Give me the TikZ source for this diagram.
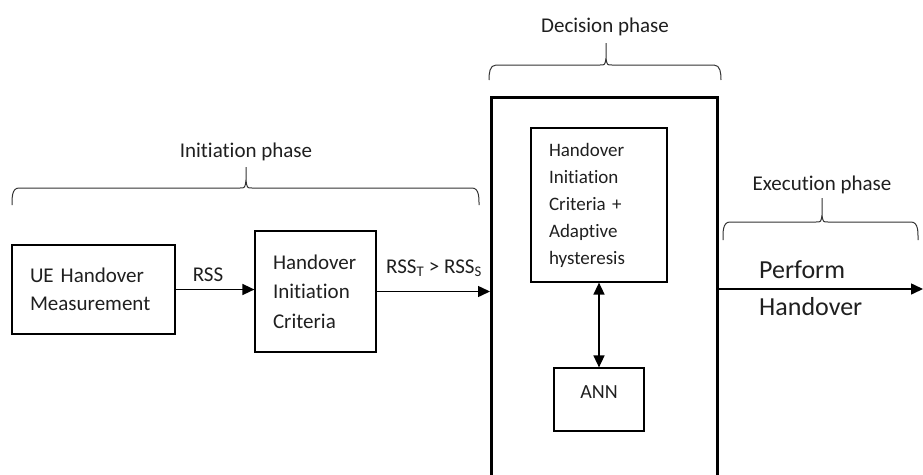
\documentclass[tikz,border=0pt]{standalone}
\usepackage{fontspec}
\setmainfont{Carlito}[Ligatures={NoCommon,NoContextual}]
\usetikzlibrary{arrows.meta}
\begin{document}
\begin{tikzpicture}[x=1pt,y=-1pt,
  txt/.style={text=black!88, inner sep=0pt},
  blk/.style={draw, line width=1.2pt, text=black!88, align=left, inner ysep=0pt},
  arr/.style={line width=1.5pt, -{Triangle[length=12pt,width=11pt]}},
  dbl/.style={line width=1.5pt, {Triangle[length=12pt,width=11pt]}-{Triangle[length=12pt,width=11pt]}},
  brc/.style={line width=1pt, draw=black!80}]
\useasboundingbox (0,0) rectangle (923,474);
% Initiation phase
\node[txt, anchor=base, font=\fontsize{21}{25}\selectfont] (tinit) at (246,157) {Initiation phase};
\draw[brc] (12,205) to[out=90,in=180] (19,188) -- (240,188) .. controls (245,188) .. (246,180) -- (246,167)
  (246,180) .. controls (247,188) .. (252,188) -- (472,188) to[out=0,in=90] (479,205);
% boxes
\node[blk, minimum width=163, minimum height=89, text width=127, inner xsep=18pt,
  font=\fontsize{21}{28}\selectfont] (ue) at (93.5,289.5) {UE Handover\\Measurement};
\node[blk, minimum width=121, minimum height=121, text width=85, inner xsep=18pt,
  font=\fontsize{21}{29.5}\selectfont] (hic) at (315.5,291.5) {Handover\\Initiation\\Criteria};
\draw[arr] (ue.east) -- (ue.east -| hic.west);
\node[txt, font=\fontsize{21}{25}\selectfont] (lrss) at (208,275) {RSS};
% decision box
\coordinate (decTL) at (491,97);
\coordinate (decTR) at (717,97);
\draw[line width=3pt] (491,480) -- (decTL) -- (decTR) -- (717,480);
\coordinate (decL) at (490,291.5);
\draw[arr] (hic.east) -- (decL);
\node[txt, anchor=base, font=\fontsize{21}{25}\selectfont] (lcmp) at (434,273) {RSS\textsubscript{T} > RSS\textsubscript{S}};
% Decision phase
\node[txt, anchor=base, font=\fontsize{21}{25}\selectfont] (tdec) at (605,32) {Decision phase};
\draw[brc] (489,80) to[out=90,in=180] (496,65) -- (600,65) .. controls (605,65) .. (606,58) -- (606,43)
  (606,58) .. controls (607,65) .. (612,65) -- (714,65) to[out=0,in=90] (721,80);
\node[blk, minimum width=136, minimum height=154, text width=100, inner xsep=18pt,
  font=\fontsize{19}{27}\selectfont] (inner) at (599,205) {Handover\\Initiation\\Criteria +\\Adaptive\\hysteresis};
\node[blk, minimum width=90, minimum height=63, align=center,
  font=\fontsize{20}{24}\selectfont] (ann) at (599,399.5) {ANN\\[-10pt]};
\draw[dbl] (inner.south) -- (ann.north);
% Execution
\node[txt, anchor=base, font=\fontsize{21}{25}\selectfont] (texe) at (822,190) {Execution phase};
\draw[brc] (723,240) to[out=90,in=180] (730,222) -- (816,222) .. controls (821,222) .. (822,215) -- (822,198)
  (822,215) .. controls (823,222) .. (828,222) -- (911,222) to[out=0,in=90] (918,240);
\coordinate (decR) at (717,289);
\coordinate (pEnd) at (923,289);
\draw[arr] (decR) -- (pEnd);
\node[txt, anchor=base west, font=\fontsize{26}{30}\selectfont] (lperf) at (759,278) {Perform};
\node[txt, anchor=base west, font=\fontsize{26}{30}\selectfont] (lho) at (759,315) {Handover};
\end{tikzpicture}
\end{document}
